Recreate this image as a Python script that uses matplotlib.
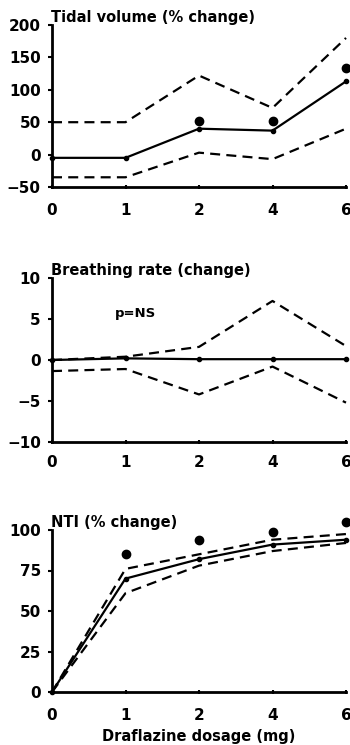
import matplotlib
matplotlib.use("Agg")
import matplotlib.pyplot as plt

# Draflazine dose levels (plotted at equally spaced positions)
doses = ["0", "1", "2", "4", "6"]

# Tidal volume (% change)
tv_mean = [-5, -5, 40, 37, 113]
tv_upper = [50, 50, 122, 72, 180]
tv_lower = [-35, -35, 3, -7, 40]
tv_dots = [None, None, 52, 52, 133]

# Breathing rate (change)
br_mean = [0, 0.2, 0.1, 0.1, 0.1]
br_upper = [0, 0.4, 1.6, 7.2, 1.7]
br_lower = [-1.35, -1.1, -4.2, -0.8, -5.2]

# NTI (% change)
nti_mean = [0, 70, 82, 91, 94]
nti_upper = [0, 76, 85, 94, 97.5]
nti_lower = [0, 61, 78, 87, 92]
nti_dots = [None, 85, 94, 99, 105]

plt.rcParams["font.family"] = ["DejaVu Sans"]
plt.rcParams["font.weight"] = "bold"

fig = plt.figure(figsize=(3.5, 7.45), dpi=100)
W, H = 350.0, 745.0


def make_axes(top_px, bottom_px):
    left, right = 52, 346
    return fig.add_axes([left / W, 1 - bottom_px / H,
                         (right - left) / W, (bottom_px - top_px) / H])


def style(ax, ylim, yticks, title, label_pad):
    ax.set_xlim(0, len(doses) - 1)
    ax.set_ylim(*ylim)
    ax.set_yticks(yticks)
    ax.set_xticks(range(len(doses)))
    ax.set_xticklabels(doses)
    for s in ("top", "right"):
        ax.spines[s].set_visible(False)
    for s in ("left", "bottom"):
        ax.spines[s].set_linewidth(2.0)
    ax.tick_params(axis="y", direction="out", length=3, width=1.5,
                   pad=5, labelsize=11)
    ax.tick_params(axis="x", direction="inout", length=3, width=1.5,
                   pad=label_pad, labelsize=11)
    ax.text(-0.005, 1.0, title, transform=ax.transAxes, ha="left",
            va="bottom", fontsize=10.5, fontweight="bold")
    ax.patch.set_alpha(0)


def draw(ax, mean, upper, lower, dots=None):
    x = list(range(len(doses)))
    ax.plot(x, upper, ls=(0, (4.5, 2.8)), color="black", lw=1.6,
            clip_on=False)
    ax.plot(x, lower, ls=(0, (4.5, 2.8)), color="black", lw=1.6,
            clip_on=False)
    ax.plot(x, mean, color="black", lw=1.6, marker="o", ms=3,
            clip_on=False)
    if dots is not None:
        px = [i for i, v in zip(x, dots) if v is not None]
        py = [v for v in dots if v is not None]
        ax.plot(px, py, "o", color="black", ms=6, ls="none", clip_on=False)


ax1 = make_axes(25, 187)
style(ax1, (-50, 200), [-50, 0, 50, 100, 150, 200],
      "Tidal volume (% change)", 10)
draw(ax1, tv_mean, tv_upper, tv_lower, tv_dots)

ax2 = make_axes(278, 442)
style(ax2, (-10, 10), [-10, -5, 0, 5, 10], "Breathing rate (change)", 8)
draw(ax2, br_mean, br_upper, br_lower)
ax2.text(0.85, 5.7, "p=NS", ha="left", va="center", fontsize=9.5,
         fontweight="bold")

ax3 = make_axes(530, 692)
style(ax3, (0, 100), [0, 25, 50, 75, 100], "NTI (% change)", 10)
draw(ax3, nti_mean, nti_upper, nti_lower, nti_dots)
ax3.set_xlabel("Draflazine dosage (mg)", fontsize=10.5, fontweight="bold",
               labelpad=4)

fig.savefig("out.png", dpi=100, facecolor="white")
